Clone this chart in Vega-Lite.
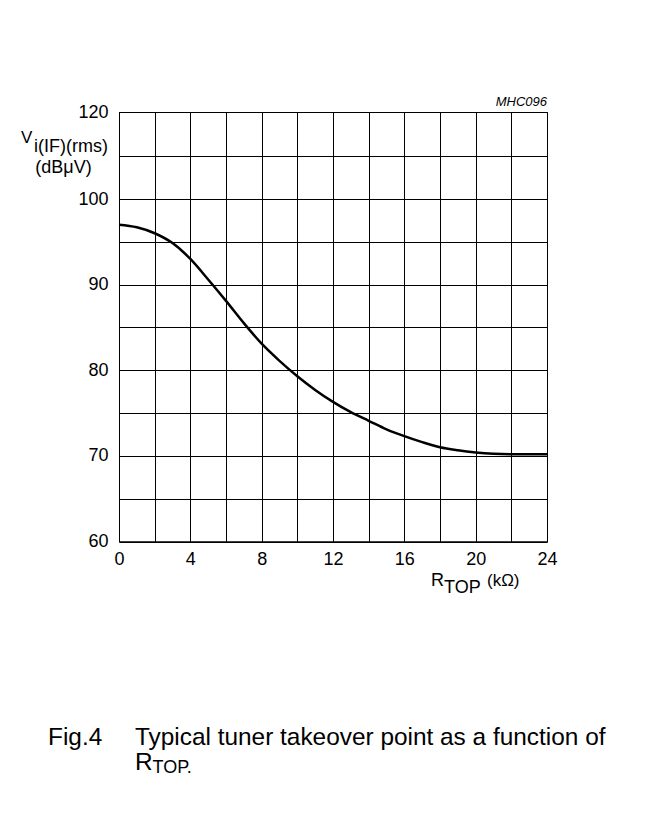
{
  "$schema": "https://vega.github.io/schema/vega-lite/v6.json",
  "width": 428,
  "height": 429.5,
  "autosize": {"type": "none"},
  "padding": {"left": 119, "top": 112, "right": 102, "bottom": 273.5},
  "background": "white",
  "config": {"view": {"stroke": "#000", "strokeWidth": 1}, "font": "Liberation Sans"},
  "title": {"text": "MHC096", "anchor": "end", "frame": "group", "fontStyle": "italic", "fontWeight": "normal", "fontSize": 13, "font": "Liberation Sans", "color": "#000", "offset": 6, "dy": 22, "baseline": "alphabetic"},
  "encoding": {
    "x": {
      "field": "x", "type": "quantitative",
      "scale": {"domain": [0, 24], "nice": false, "zero": false},
      "axis": {
        "values": [0, 2, 4, 6, 8, 10, 12, 14, 16, 18, 20, 22, 24],
        "labelExpr": "datum.value % 4 == 0 ? datum.label : ''",
        "title": null, "grid": true, "gridColor": "#000", "gridOpacity": 1, "gridWidth": 1,
        "ticks": false, "domainColor": "#000", "domainWidth": 1,
        "labelFontSize": 18, "labelColor": "#000", "labelFont": "Liberation Sans",
        "labelPadding": 9, "labelFlush": false, "labelOverlap": false
      }
    },
    "y": {
      "field": "y", "type": "quantitative",
      "scale": {"domain": [60, 100, 120], "range": [429.5, 87, 0], "nice": false, "zero": false},
      "axis": {
        "values": [60, 65, 70, 75, 80, 85, 90, 95, 100, 110, 120],
        "labelExpr": "indexof([60, 70, 80, 90, 100, 120], datum.value) >= 0 ? datum.label : ''",
        "title": null, "grid": true, "gridColor": "#000", "gridOpacity": 1, "gridWidth": 1,
        "ticks": false, "domainColor": "#000", "domainWidth": 1,
        "labelFontSize": 18, "labelColor": "#000", "labelFont": "Liberation Sans",
        "labelPadding": 11, "labelFlush": false, "labelOverlap": false
      }
    }
  },
  "layer": [
    {
      "data": {"values": [
        {"x": 0, "y": 97.0}, {"x": 1, "y": 96.7}, {"x": 2, "y": 96.0}, {"x": 3, "y": 94.85},
        {"x": 4, "y": 93.0}, {"x": 5, "y": 90.6}, {"x": 6, "y": 88.1}, {"x": 7, "y": 85.5},
        {"x": 8, "y": 83.1}, {"x": 9, "y": 81.1}, {"x": 10, "y": 79.3}, {"x": 11, "y": 77.7},
        {"x": 12, "y": 76.3}, {"x": 13, "y": 75.1}, {"x": 14, "y": 74.1}, {"x": 15, "y": 73.1},
        {"x": 16, "y": 72.3}, {"x": 17, "y": 71.6}, {"x": 18, "y": 71.0}, {"x": 19, "y": 70.65},
        {"x": 20, "y": 70.4}, {"x": 21, "y": 70.25}, {"x": 22, "y": 70.2}, {"x": 23, "y": 70.2},
        {"x": 24, "y": 70.2}
      ]},
      "mark": {"type": "line", "color": "#000", "strokeWidth": 2.5, "interpolate": "monotone"}
    },
    {
      "data": {"values": [{"x": 0, "y": 120, "t": "V"}]},
      "mark": {"type": "text", "align": "left", "baseline": "alphabetic", "dx": -98, "dy": 31, "fontSize": 17, "color": "#000"},
      "encoding": {"text": {"field": "t"}}
    },
    {
      "data": {"values": [{"x": 0, "y": 120, "t": "i(IF)(rms)"}]},
      "mark": {"type": "text", "align": "right", "baseline": "alphabetic", "dx": -11, "dy": 39.5, "fontSize": 18, "color": "#000"},
      "encoding": {"text": {"field": "t"}}
    },
    {
      "data": {"values": [{"x": 0, "y": 120, "t": "(dBμV)"}]},
      "mark": {"type": "text", "align": "center", "baseline": "alphabetic", "dx": -55.5, "dy": 61, "fontSize": 18, "color": "#000"},
      "encoding": {"text": {"field": "t"}}
    },
    {
      "data": {"values": [{"x": 24, "y": 60, "t": "R"}]},
      "mark": {"type": "text", "align": "left", "baseline": "alphabetic", "dx": -116, "dy": 44.5, "fontSize": 18, "color": "#000"},
      "encoding": {"text": {"field": "t"}}
    },
    {
      "data": {"values": [{"x": 24, "y": 60, "t": "TOP"}]},
      "mark": {"type": "text", "align": "left", "baseline": "alphabetic", "dx": -103, "dy": 51.5, "fontSize": 18, "color": "#000"},
      "encoding": {"text": {"field": "t"}}
    },
    {
      "data": {"values": [{"x": 24, "y": 60, "t": "(kΩ)"}]},
      "mark": {"type": "text", "align": "left", "baseline": "alphabetic", "dx": -60, "dy": 44, "fontSize": 17, "color": "#000"},
      "encoding": {"text": {"field": "t"}}
    },
    {
      "data": {"values": [{"x": 0, "y": 60, "t": "Fig.4"}]},
      "mark": {"type": "text", "align": "left", "baseline": "alphabetic", "dx": -71, "dy": 203.5, "fontSize": 24.4, "color": "#000"},
      "encoding": {"text": {"field": "t"}}
    },
    {
      "data": {"values": [{"x": 0, "y": 60, "t": "Typical tuner takeover point as a function of"}]},
      "mark": {"type": "text", "align": "left", "baseline": "alphabetic", "dx": 16, "dy": 203.5, "fontSize": 24.4, "color": "#000"},
      "encoding": {"text": {"field": "t"}}
    },
    {
      "data": {"values": [{"x": 0, "y": 60, "t": "R"}]},
      "mark": {"type": "text", "align": "left", "baseline": "alphabetic", "dx": 16, "dy": 228.5, "fontSize": 24.4, "color": "#000"},
      "encoding": {"text": {"field": "t"}}
    },
    {
      "data": {"values": [{"x": 0, "y": 60, "t": "TOP."}]},
      "mark": {"type": "text", "align": "left", "baseline": "alphabetic", "dx": 33.5, "dy": 231.5, "fontSize": 18, "color": "#000"},
      "encoding": {"text": {"field": "t"}}
    }
  ]
}
